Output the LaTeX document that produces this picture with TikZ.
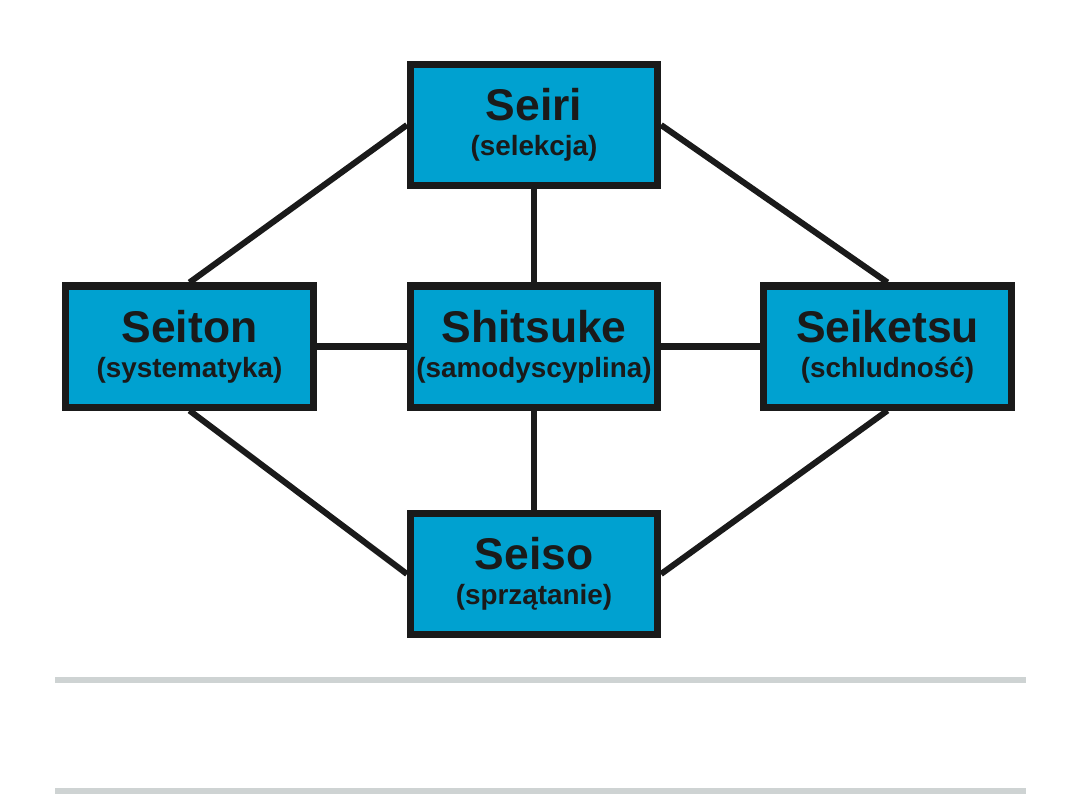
\documentclass[tikz,border=0pt]{standalone}
\usepackage{fontspec}
\setmainfont{Liberation Sans}
\usetikzlibrary{positioning}

\definecolor{boxblue}{RGB}{0,161,208}
\definecolor{inkdark}{RGB}{26,26,26}
\definecolor{rulegray}{RGB}{206,211,211}

\newcommand{\boxtitle}[1]{{\fontsize{31.6}{35}\selectfont #1}}

\begin{document}
\begin{tikzpicture}[
  x=0.025cm, y=-0.025cm,
  % ---- styles ----
  sbox/.style = {
    rectangle,
    draw=inkdark, line width=5pt,
    fill=boxblue,
    minimum width=6.175cm,
    minimum height=3.025cm,
    inner sep=0pt,
    align=center,
    text=inkdark,
    font=\fontsize{19.8}{25}\selectfont\bfseries
  },
  link/.style = {draw=inkdark, line width=4.3pt},
  sep/.style = {draw=rulegray, line width=4.3pt}
]
\useasboundingbox (0,0) rectangle (1080,810);

% ============ BOXES ============

% --- top ---
\node[sbox] (seiri) at (534,125) {\boxtitle{Seiri}\\(selekcja)};

% --- middle row ---
\node[sbox] (shitsuke) at (534,346.5) {\boxtitle{Shitsuke}\\(samodyscyplina)};
\node[sbox] (seiton) at (189.5,346.5) {\boxtitle{Seiton}\\(systematyka)};
\node[sbox] (seiketsu) at (887.5,346.5) {\boxtitle{Seiketsu}\\(schludność)};

% --- bottom ---
\node[sbox] (seiso) at (534,574) {\boxtitle{Seiso}\\(sprzątanie)};

% ============ LINKS ============

\draw[link] (seiri.south) -- (shitsuke.north);
\draw[link] (shitsuke.south) -- (seiso.north);
\draw[link] (seiton.east) -- (shitsuke.west);
\draw[link] (shitsuke.east) -- (seiketsu.west);
\draw[link] (seiri.west) -- (seiton.north);
\draw[link] (seiri.east) -- (seiketsu.north);
\draw[link] (seiton.south) -- (seiso.west);
\draw[link] (seiketsu.south) -- (seiso.east);

% ============ RULES ============

\coordinate (ruleAl) at (55,680);
\coordinate (ruleAr) at (1026,680);
\coordinate (ruleBl) at (55,791);
\coordinate (ruleBr) at (1026,791);
\draw[sep] (ruleAl) -- (ruleAr);
\draw[sep] (ruleBl) -- (ruleBr);

\end{tikzpicture}
\end{document}
